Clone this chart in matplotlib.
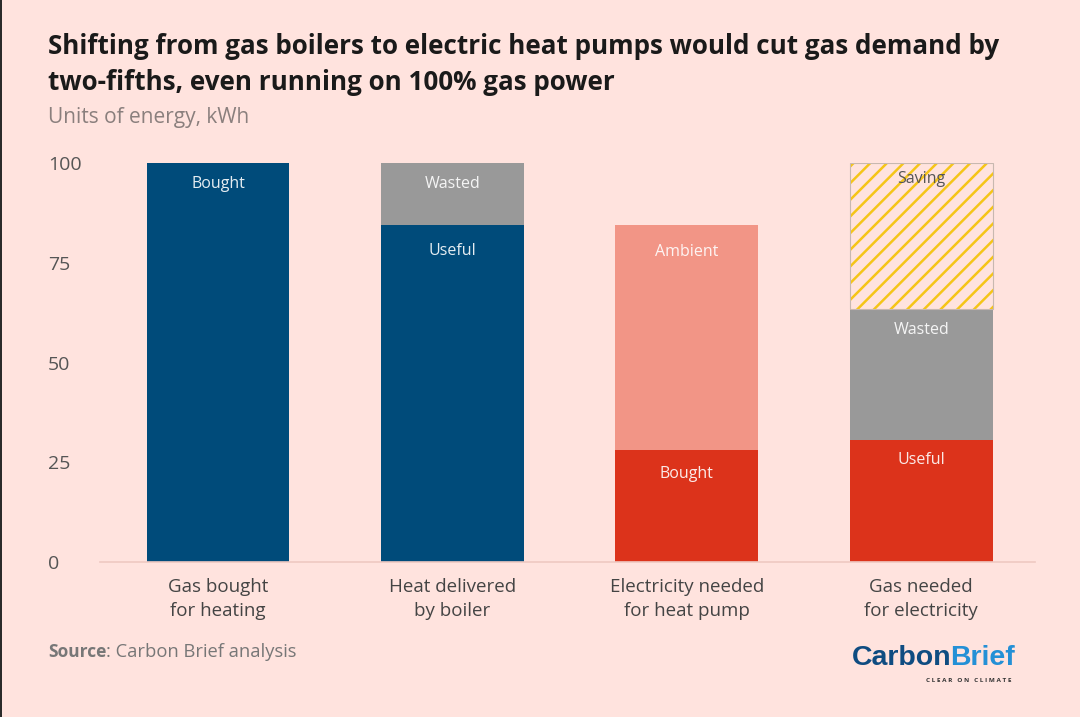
import matplotlib
matplotlib.use("Agg")
import numpy as np
import matplotlib.pyplot as plt
from matplotlib.patches import Rectangle

#Data
categories = ["Gas bought\nfor heating", "Heat delivered\nby boiler",
              "Electricity needed\nfor heat pump", "Gas needed\nfor electricity"]
y_ticks = [0, 25, 50, 75, 100]

# each segment: bar index, bottom, height, colour, label, label height
seg_bar = [0, 1, 1, 2, 2, 3, 3]
seg_bottom = [0, 0, 84.5, 0, 28.1, 0, 30.6]
seg_height = [100, 84.5, 15.5, 28.1, 56.4, 30.6, 32.8]
seg_color = ["#004B7A", "#004B7A", "#999999", "#DC331B", "#F29586", "#DC331B", "#999999"]
seg_label = ["Bought", "Useful", "Wasted", "Bought", "Ambient", "Useful", "Wasted"]
seg_label_y = [94.7, 77.9, 94.7, 22.1, 77.7, 25.5, 58.1]
saving_bottom = 63.4
saving_height = 36.6
saving_label_y = 95.9

bg = "#FFE3DE"
plt.rcParams["font.family"] = ["Open Sans", "DejaVu Sans"]
plt.rcParams["hatch.linewidth"] = 1.8
plt.rcParams["hatch.color"] = "#F5C518"

W, H = 1080, 717
fig = plt.figure(figsize=(W / 100, H / 100), dpi=100, facecolor=bg)
# axes placed so that y=0 and y=100 land on the chart's gridline positions
ax = fig.add_axes([100 / W, 1 - 562 / H, 935 / W, 399 / H], facecolor="none")

bar_w = 0.61
x = np.arange(len(categories))

for i, b, h, c, lab, ly in zip(seg_bar, seg_bottom, seg_height, seg_color, seg_label, seg_label_y):
    ax.bar(i, h, bottom=b, width=bar_w, color=c, linewidth=0)
    ax.text(i, ly, lab, color="#FFFFFF", ha="center", va="center", fontsize=11.5, alpha=0.9)

ax.bar(3, saving_height, bottom=saving_bottom, width=bar_w, facecolor=bg,
       edgecolor="#F5C518", hatch="//", linewidth=0)
ax.bar(3, saving_height, bottom=saving_bottom, width=bar_w, facecolor="none",
       edgecolor="#C8B8B0", linewidth=0.8)
ax.text(3, saving_label_y, "Saving", color="#555555", ha="center", va="center", fontsize=11.5)

ax.set_xlim((100 - 218) / 234.4, (1035 - 218) / 234.4)
ax.set_ylim(0, 100)
ax.set_xticks(x)
ax.set_xticklabels(categories, fontsize=13.5, color="#444444", linespacing=1.45)
ax.set_yticks(y_ticks)
ax.tick_params(axis="both", length=0)
ax.tick_params(axis="x", pad=11.5)
ax.set_yticklabels([])
for v in y_ticks:
    fig.text(48 / W, 1 - (564 - v * 3.99) / H, str(v), fontsize=14, color="#555555", va="center", ha="left")

for s in ["top", "left", "right"]:
    ax.spines[s].set_visible(False)
ax.spines["bottom"].set_color("#EFC9C2")
ax.spines["bottom"].set_linewidth(1.2)

#Titles
fig.text(48 / W, 1 - 47 / H, "Shifting from gas boilers to electric heat pumps would cut gas demand by",
         fontsize=18.7, fontweight="bold", color="#1A1A1A", va="center")
fig.text(48 / W, 1 - 83 / H, "two-fifths, even running on 100% gas power",
         fontsize=18.7, fontweight="bold", color="#1A1A1A", va="center")
fig.text(48 / W, 1 - 117 / H, "Units of energy, kWh", fontsize=15, color="#8A7F7D", va="center")

#Source
fig.text(48 / W, 1 - 652 / H, "Source", fontsize=12.5, fontweight="bold", color="#777777", va="center")
fig.text(106 / W, 1 - 652 / H, ": Carbon Brief analysis", fontsize=13.2, color="#777777", va="center")

#Logo
logo_font = ["Liberation Sans", "DejaVu Sans"]
fig.text(852 / W, 1 - 658 / H, "Carbon", fontsize=20.5, fontweight="bold", color="#0F4C81", va="center",
         family=logo_font)
fig.text(950 / W, 1 - 658 / H, "Brief", fontsize=20.5, fontweight="bold", color="#2490D6", va="center",
         family=logo_font)
fig.text(1012 / W, 1 - 680 / H, "C L E A R   O N   C L I M A T E", fontsize=4.6, fontweight="bold",
         color="#333333", va="center", ha="right")

# dark strip down the left edge of the screenshot
fig.add_artist(Rectangle((0, 0), 2 / W, 1, transform=fig.transFigure, facecolor="#2B2B2B", linewidth=0))

fig.savefig("out.png", dpi=100, facecolor=bg)
